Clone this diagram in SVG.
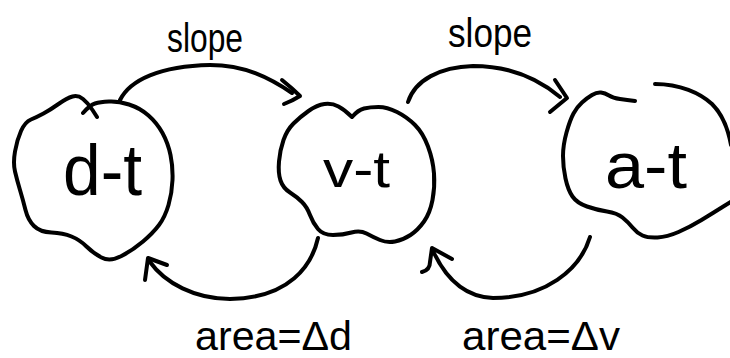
<svg xmlns="http://www.w3.org/2000/svg" width="730" height="358" viewBox="0 0 730 358">
<style>
.ink{fill:none;stroke:#000;stroke-width:4;stroke-linecap:round;stroke-linejoin:round}
.lbl{font-family:"Liberation Sans",Arial,sans-serif;fill:#000}
</style>
<rect width="730" height="358" fill="#fff"/>
<g id="node-dt">
<path class="ink" d="M83,113 Q90,105 95,103.5 Q100,102 109,101.5 Q118,101 129,104.5 Q140,108 148.5,115.5 Q157,123 162.5,133 Q168,143 170.5,155 Q173,167 172.5,180 Q172,193 168.5,205 Q165,217 159,225 Q153,233 143,241.5 Q133,250 121.5,256 Q110,262 101.5,257.5 Q93,253 86.5,246.5 Q80,240 71.5,236.5 Q63,233 51.5,232.5 Q40,232 34,226 Q28,220 25.5,210 Q23,200 20,190 Q17,180 15,171.5 Q13,163 15,151.5 Q17,140 21,131 Q25,122 31,119.5 Q37,117 43.5,113.5 Q50,110 58.5,104 Q67,98 72.5,96.5 Q78,95 83,99 Q88,103 92.5,110 L97,117"/>
<text class="lbl" x="63" y="195" font-size="72" textLength="79" lengthAdjust="spacingAndGlyphs">d-t</text>
</g>
<g id="node-vt">
<path class="ink" d="M352,117 Q345,110 338.5,106.5 Q332,103 324.5,104 Q317,105 308.5,111 Q300,117 293.5,123.5 Q287,130 283.5,140 Q280,150 279,161.5 Q278,173 280.5,180.5 Q283,188 290,192.5 Q297,197 302,202 Q307,207 310,215 Q313,223 318,229 Q323,235 333,235 Q343,235 351.5,232.5 Q360,230 366.5,233.5 Q373,237 380,240 Q387,243 395,241.5 Q403,240 410.5,235 Q418,230 424,221.5 Q430,213 432.5,200 Q435,187 434,173.5 Q433,160 428,146.5 Q423,133 415,125 Q407,117 397,112 Q387,107 378.5,107 Q370,107 364,108.5 Q358,110 352,117"/>
<text class="lbl" x="323" y="187" font-size="52" textLength="67" lengthAdjust="spacingAndGlyphs">v-t</text>
</g>
<g id="node-at">
<path class="ink" d="M635,101 Q627,100 620,99 Q613,98 609,95.5 Q605,93 601,92.5 Q597,92 592,95 Q587,98 582,102.5 Q577,107 573.5,113.5 Q570,120 566.5,132.5 Q563,145 563,156 Q563,167 565.5,178.5 Q568,190 572.5,196.5 Q577,203 587,206.5 Q597,210 607,211.5 Q617,213 622.5,217.5 Q628,222 632.5,227.5 Q637,233 642.5,235.5 Q648,238 657.5,237.5 Q667,237 678.5,232 Q690,227 701.5,220 Q713,213 722.5,207 L732,201"/>
<path class="ink" d="M655,84 C680,84 700,93 712,104 C722,114 728,128 731,145"/>
<text class="lbl" x="605" y="188" font-size="64" textLength="82" lengthAdjust="spacingAndGlyphs">a-t</text>
</g>
<g id="connectors">
<path class="ink" d="M120,100 C130,80 160,66 210,65 C245,65 270,78 292,93"/>
<path class="ink" d="M282,80 Q292,88 300,96 Q292,101 284,104"/>
<path class="ink" d="M408,102 C415,80 440,67 473,66 C505,66 535,76 560,97"/>
<path class="ink" d="M555,80 L567,98 L550,112"/>
<path class="ink" d="M318,238 C312,265 290,298 230,299 C195,299 165,283 150,262"/>
<path class="ink" d="M145,280 L148,258 L167,265"/>
<path class="ink" d="M590,237 C580,270 545,298 493,298 C465,297 447,280 434,253"/>
<path class="ink" d="M422,272 Q430,270 430,262 L432,248 L452,259"/>
<text class="lbl" x="167" y="52" font-size="40" textLength="76" lengthAdjust="spacingAndGlyphs">slope</text>
<text class="lbl" x="448" y="47" font-size="40" textLength="84" lengthAdjust="spacingAndGlyphs">slope</text>
<text class="lbl" x="195" y="350" font-size="40" textLength="157" lengthAdjust="spacingAndGlyphs">area=Δd</text>
<text class="lbl" x="462" y="350" font-size="40" textLength="158" lengthAdjust="spacingAndGlyphs">area=Δv</text>
</g>
</svg>
